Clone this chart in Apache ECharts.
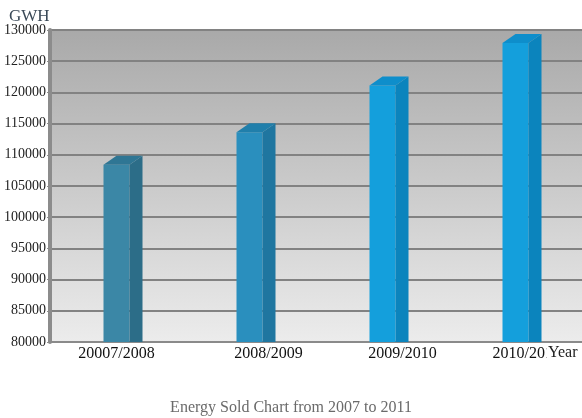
<!DOCTYPE html>
<html><head><meta charset="utf-8">
<script src="https://cdn.jsdelivr.net/npm/echarts@6/dist/echarts.min.js"></script>
<style>html,body{margin:0;padding:0;background:#fff}#c{width:582px;height:418px}</style>
</head><body><div id="c"></div>
<script>
var categories = ['20007/2008', '2008/2009', '2009/2010', '2010/2011'];
var energySold = [108400, 113600, 121100, 127900];
var yTicks = { min: 80000, max: 130000, interval: 5000 };

var frontColors = ['#3b87a6', '#2a8fbe', '#149fdc', '#149fdc'];
var sideColors  = ['#2c6d88', '#1f76a0', '#0b84bd', '#0b84bd'];
var topColors   = ['#2f7694', '#207fab', '#0e8ecb', '#0e8ecb'];
var labelShift  = [0, 38, 40, 22];

var chart = echarts.init(document.getElementById('c'));
var rich = {};
labelShift.forEach(function (s, i) {
  rich['l' + i] = { fontFamily: 'Liberation Serif', fontSize: 16, color: '#111', padding: [0, 0, 0, s] };
});
chart.setOption({
  animation: false,
  title: [
    { text: 'GWH', left: 4, top: 3, textStyle: { fontFamily: 'Liberation Serif', fontSize: 17, fontWeight: 'normal', color: '#3b4a58' } },
    { text: 'Energy Sold Chart from 2007 to 2011', left: 'center', top: 395, textStyle: { fontFamily: 'Liberation Serif', fontSize: 16, fontWeight: 'normal', color: '#6a6a6a' } },
    { text: 'Year', left: 547, top: 345, padding: [0, 0, 0, 1], backgroundColor: '#fff', textStyle: { fontFamily: 'Liberation Serif', fontSize: 16, fontWeight: 'normal', color: '#222' } }
  ],
  grid: {
    left: 50, right: 0, top: 30, bottom: 76, show: true, borderWidth: 0,
    containLabel: false, outerBoundsMode: 'none',
    backgroundColor: new echarts.graphic.LinearGradient(0, 0, 0, 1, [
      { offset: 0, color: '#a9a9a9' }, { offset: 1, color: '#ececec' }
    ])
  },
  xAxis: {
    type: 'category', data: categories,
    axisLine: { lineStyle: { color: '#8a8a8a', width: 2 } },
    axisTick: { show: false },
    axisLabel: {
      margin: 4, interval: 0, hideOverlap: false, rich: rich,
      formatter: function (v, i) { return '{l' + i + '|' + v + '}'; }
    }
  },
  yAxis: {
    type: 'value', min: yTicks.min, max: yTicks.max, interval: yTicks.interval,
    axisLine: { show: true, lineStyle: { color: '#8c8c8c', width: 4 } },
    axisTick: { show: true, length: 3, lineStyle: { color: '#8c8c8c' } },
    axisLabel: { fontFamily: 'Liberation Serif', fontSize: 14, color: '#222', margin: 4, formatter: function (v) { return String(v); } },
    splitLine: { lineStyle: { color: '#828282', width: 2 } }
  },
  series: [{
    type: 'custom',
    data: energySold.map(function (v, i) { return [i, v]; }),
    clip: true,
    renderItem: function (params, api) {
      var i = api.value(0);
      var top = api.coord([i, api.value(1)]);
      var bot = api.coord([i, yTicks.min]);
      var x = top[0], yt = top[1], yb = bot[1];
      var hw = 13, sw = 13, dy = 9;
      return {
        type: 'group',
        children: [
          { type: 'rect', shape: { x: x - hw, y: yt, width: hw * 2, height: yb - yt }, style: { fill: frontColors[i] } },
          { type: 'polygon', shape: { points: [[x + hw, yt], [x + hw + sw, yt - dy], [x + hw + sw, yb], [x + hw, yb]] }, style: { fill: sideColors[i] } },
          { type: 'polygon', shape: { points: [[x - hw, yt], [x - hw + sw, yt - dy], [x + hw + sw, yt - dy], [x + hw, yt]] }, style: { fill: topColors[i] } }
        ]
      };
    }
  }]
});
</script></body></html>
